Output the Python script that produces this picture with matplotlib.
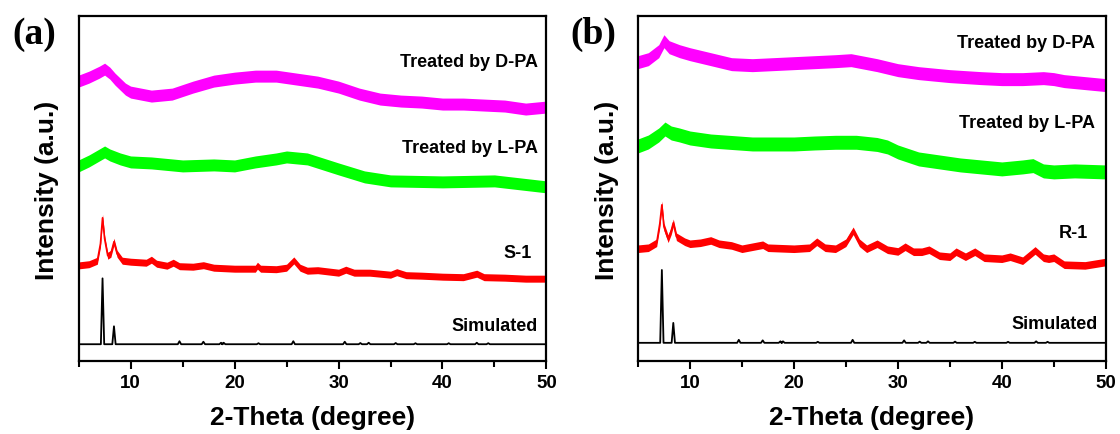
import matplotlib
matplotlib.use("Agg")
import matplotlib.pyplot as plt
import numpy as np

plt.rcParams['font.family'] = ['Liberation Sans', 'DejaVu Sans']
plt.rcParams['font.weight'] = 'bold'

# ---------------- panel (a): S-1 ----------------
a_dpa_x = [5, 6, 7, 7.5, 8, 8.5, 9.5, 10, 12, 14, 16, 18, 20, 22, 24, 26, 28, 30,
           32, 34, 36, 38, 40, 42, 44, 46, 48, 50]
a_dpa_y = [281, 285, 290, 293, 289, 283, 273, 270, 266, 268, 275, 281, 284, 286, 286,
           283, 280, 275, 268, 263, 261, 260, 258, 258, 257, 256, 253, 255]

a_lpa_x = [5, 6, 7, 7.5, 8, 9, 10, 12, 15, 18, 20, 22, 24, 25, 27, 30, 32.5, 35, 40, 45, 50]
a_lpa_y = [196, 201, 207, 210, 207, 203, 200, 199, 196, 197, 196, 200, 203, 205, 203,
           193, 185, 181, 180, 181, 175]

a_exp_x = [5, 6, 6.8, 7.1, 7.3, 7.5, 7.8, 8.1, 8.4, 8.7, 9.2, 10, 11.5, 12, 12.5, 13.5,
           14.1, 14.7, 16, 17, 18, 20, 22, 22.2, 22.5, 24, 25, 25.7, 26.3, 27, 28, 30,
           30.7, 31.5, 33, 35, 35.6, 36.5, 38, 40, 42, 43.3, 44, 46, 48, 50]
a_exp_y = [96.3, 97.5, 101, 118, 144, 123, 106, 108, 120, 108, 101, 100, 99, 102, 98, 96,
           99, 95.5, 95, 96.5, 94, 93, 93, 96, 93, 92.5, 94, 101.3, 94, 91, 91.5, 89,
           92, 89, 89, 87, 89.5, 86.5, 86, 85, 84.5, 88, 84.5, 84, 83, 83]

# ---------------- panel (b): R-1 ----------------
b_dpa_x = [5, 6, 7, 7.5, 8, 9, 10, 12, 14, 16, 18, 20, 22, 24, 25.5, 27, 28, 30, 32, 35,
           38, 40, 42, 44, 45, 46, 48, 50]
b_dpa_y = [300, 303, 311, 321, 315, 311, 308, 303, 298, 297, 298, 299, 300, 301, 302,
           299, 297, 292, 289, 286, 284, 283, 283, 284, 283, 281, 279, 277]

b_lpa_x = [5, 6, 7, 7.6, 8.2, 9, 10, 12, 14, 16, 18, 20, 22, 24, 26, 28, 29, 30, 32, 34,
           36, 38, 40, 42, 43, 44, 45, 47, 50]
b_lpa_y = [216, 220, 227, 233, 229, 227, 224, 221, 219.5, 218, 218, 218, 219, 219.7,
           219.7, 217.5, 215, 210, 203, 200, 197, 195, 193, 195, 196.3, 191, 190, 191, 190]

b_exp_x = [5, 6, 6.8, 7.1, 7.3, 7.5, 7.9, 8.2, 8.4, 8.7, 9.5, 10, 11, 12, 12.8, 14, 15,
           17, 17.5, 20, 21.5, 22.2, 23, 24, 25, 25.7, 26.3, 27, 28, 29, 30, 30.7, 31.5,
           32.3, 33, 34, 35, 35.6, 36.5, 37.4, 38.3, 40, 40.8, 42, 43.2, 44, 44.5, 45,
           46, 48, 50]
b_exp_y = [113, 114, 119, 138, 157, 135, 123, 131, 139, 125, 120, 118, 119, 121.3, 118,
           116.3, 113, 117, 114, 113, 114, 120, 114, 113, 119, 131, 119, 113, 118, 112,
           110.3, 115, 110, 110, 112, 106, 105, 110, 105, 110, 104, 103, 105, 101,
           111.3, 104, 103, 104, 97, 96.3, 99.7]

# noise spread (peak-to-peak / 2) of each measured trace
a_noise = [6.0, 6.0, 3.5]
b_noise = [6.5, 7.0, 3.8]

# simulated pattern: reflection positions and heights above the baseline
sim_pos = [7.3, 8.4, 14.7, 17.0, 18.7, 18.95, 22.3, 25.65, 30.6, 32.1, 32.9, 35.5,
           37.4, 40.6, 43.3, 44.4]
a_sim_h = [66, 18, 3, 2.5, 1.5, 1.5, 1, 3, 2.5, 1.2, 1.5, 1.2, 1, 1, 1.5, 1]
b_sim_h = [73, 20, 3, 2.5, 1.5, 1.5, 1, 3, 2.5, 1.2, 1.5, 1.2, 1, 1, 1.5, 1]
a_sim_base = 17.3
b_sim_base = 18.7


def stick_profile(pos, heights, base, half=0.16):
    xs, ys = [5.0], [base]
    for p, h in zip(pos, heights):
        xs += [p - half, p, p + half]
        ys += [base, base + h, base]
    xs.append(50.0)
    ys.append(base)
    return xs, ys


def draw_panel(ax, traces, noise, sim_h, sim_base, labels, letter):
    for (x, y, color), half in zip(traces, noise):
        x = np.asarray(x)
        y = np.asarray(y)
        ax.fill_between(x, y - half, y + half, color=color, linewidth=0)
        ax.plot(x, y, color=color, lw=1.2)
    sx, sy = stick_profile(sim_pos, sim_h, sim_base)
    ax.plot(sx, sy, color='black', lw=1.3)

    for txt, xr, yc in labels:
        ax.text(xr, yc, txt, ha='right', va='center', fontsize=13,
                fontweight='bold')

    ax.set_xlim(5, 50)
    ax.set_ylim(0, 346)
    ax.set_xticks([10, 20, 30, 40, 50])
    ax.set_xticks([5, 15, 25, 35, 45], minor=True)
    ax.set_yticks([])
    ax.tick_params(axis='x', which='major', direction='out', length=6, width=1.5,
                   labelsize=13.5, pad=3)
    ax.tick_params(axis='x', which='minor', direction='out', length=4, width=1.5)
    for lab in ax.get_xticklabels():
        lab.set_fontweight('bold')
    for sp in ax.spines.values():
        sp.set_linewidth(1.6)
    ax.set_xlabel('2-Theta (degree)', fontsize=19, fontweight='bold', labelpad=10)
    ax.set_ylabel('Intensity (a.u.)', fontsize=19, fontweight='bold', labelpad=14)
    ax.text(-0.095, 0.95, letter, transform=ax.transAxes, ha='center', va='center',
            fontsize=27, fontweight='bold', family=['Liberation Serif', 'DejaVu Serif'])


fig = plt.figure(figsize=(11.2, 4.35), dpi=100)
ax_a = fig.add_axes([0.0702, 0.1667, 0.4177, 0.7936])
ax_b = fig.add_axes([0.5696, 0.1667, 0.4177, 0.7936])

draw_panel(ax_a,
           [(a_dpa_x, a_dpa_y, '#ff00ff'),
            (a_lpa_x, a_lpa_y, '#00ff00'),
            (a_exp_x, a_exp_y, '#ff0000')],
           a_noise, a_sim_h, a_sim_base,
           [('Treated by D-PA', 49.2, 300.7),
            ('Treated by L-PA', 49.2, 214.7),
            ('S-1', 48.6, 109.7),
            ('Simulated', 49.2, 35.7)],
           '(a)')

draw_panel(ax_b,
           [(b_dpa_x, b_dpa_y, '#ff00ff'),
            (b_lpa_x, b_lpa_y, '#00ff00'),
            (b_exp_x, b_exp_y, '#ff0000')],
           b_noise, b_sim_h, b_sim_base,
           [('Treated by D-PA', 49.0, 319.7),
            ('Treated by L-PA', 49.0, 239.7),
            ('R-1', 48.3, 129.7),
            ('Simulated', 49.2, 38.0)],
           '(b)')

fig.savefig('out.png', dpi=100)
